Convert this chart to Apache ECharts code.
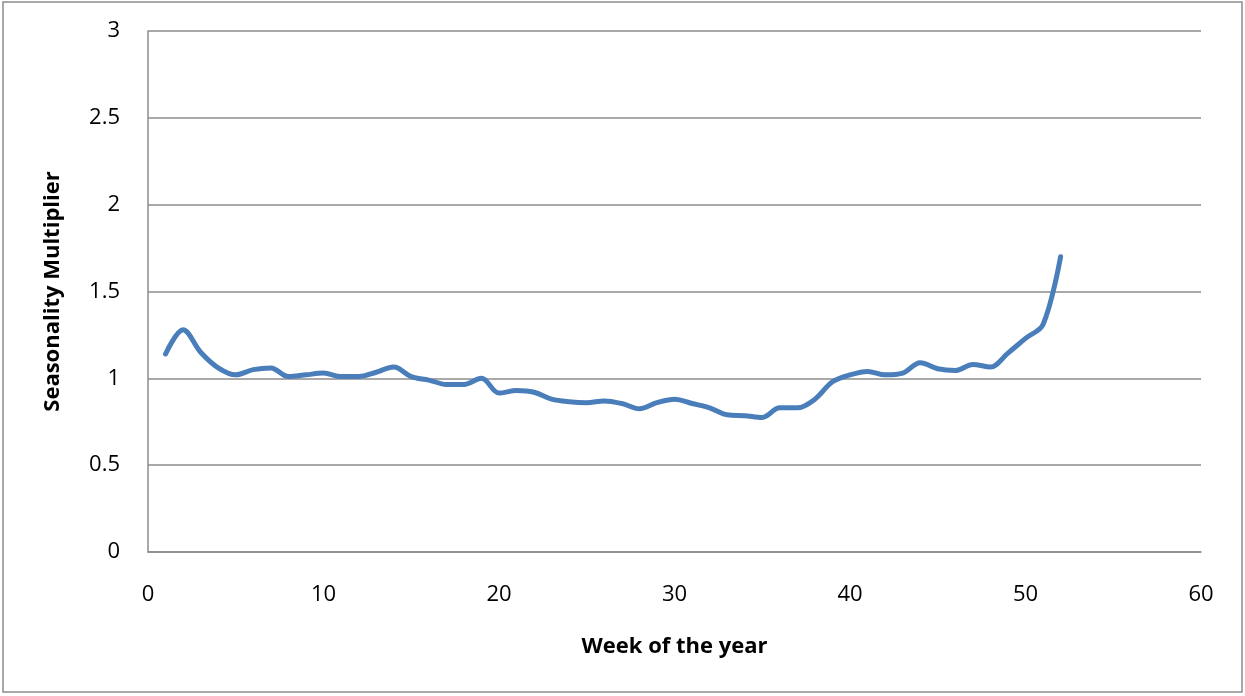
<!DOCTYPE html>
<html>
<head>
<meta charset="utf-8">
<script src="https://cdn.jsdelivr.net/npm/echarts@6/dist/echarts.min.js"></script>
<style>
  html, body { margin: 0; padding: 0; background: #fff; }
  #chart { width: 1245px; height: 696px; }
</style>
</head>
<body>
<div id="chart"></div>
<script>
// Week numbers 1..52 and the seasonality multiplier for each week
const weeks = [1,2,3,4,5,6,7,8,9,10,11,12,13,14,15,16,17,18,19,20,21,22,23,24,25,26,
               27,28,29,30,31,32,33,34,35,36,37,38,39,40,41,42,43,44,45,46,47,48,49,50,51,52];
const multiplier = [1.14,1.28,1.15,1.06,1.02,1.05,1.06,1.01,1.02,1.03,1.01,1.01,1.035,1.065,1.01,0.99,
                    0.965,0.965,1.0,0.915,0.93,0.92,0.88,0.865,0.86,0.87,0.855,0.825,0.86,0.88,
                    0.855,0.83,0.79,0.785,0.775,0.83,0.83,0.88,0.98,1.02,1.04,1.02,1.03,1.09,
                    1.055,1.045,1.08,1.065,1.145,1.23,1.31,1.70];
const xTicks = [0, 10, 20, 30, 40, 50, 60];
const yTicks = [0, 0.5, 1, 1.5, 2, 2.5, 3];

const seriesData = weeks.map((w, i) => [w, multiplier[i]]);
const font = "'Open Sans', 'Liberation Sans', sans-serif";

const chart = echarts.init(document.getElementById('chart'), null, { renderer: 'canvas' });
chart.setOption({
  animation: false,
  backgroundColor: '#ffffff',
  graphic: [{
    type: 'rect',
    shape: { x: 3, y: 2, width: 1239, height: 690 },
    style: { fill: 'none', stroke: '#8c8c8c', lineWidth: 1.5 },
    silent: true
  }],
  grid: { left: 148, right: 44, top: 31, bottom: 144 },
  xAxis: {
    type: 'value',
    min: xTicks[0],
    max: xTicks[xTicks.length - 1],
    interval: 10,
    name: 'Week of the year',
    nameLocation: 'middle',
    nameGap: 84,
    nameTextStyle: { fontFamily: font, fontSize: 22, fontWeight: 'bold', color: '#000' },
    axisLine: { show: true, lineStyle: { color: '#8c8c8c', width: 1.5 } },
    axisTick: { show: false },
    axisLabel: { fontFamily: font, fontSize: 22, color: '#000', margin: 32 },
    splitLine: { show: false }
  },
  yAxis: {
    type: 'value',
    min: yTicks[0],
    max: yTicks[yTicks.length - 1],
    interval: 0.5,
    name: 'Seasonality Multiplier',
    nameLocation: 'middle',
    nameGap: 84,
    nameRotate: 90,
    nameTextStyle: { fontFamily: font, fontSize: 22, fontWeight: 'bold', color: '#000' },
    axisLine: { show: true, lineStyle: { color: '#8c8c8c', width: 1.5 } },
    axisTick: { show: false },
    axisLabel: { fontFamily: font, fontSize: 22, color: '#000', margin: 28 },
    splitLine: { show: true, lineStyle: { color: '#8c8c8c', width: 1.5 } }
  },
  series: [{
    type: 'line',
    data: seriesData,
    smooth: 0.35,
    symbol: 'none',
    lineStyle: { color: '#4a7ebb', width: 5, cap: 'round', join: 'round' }
  }]
});
</script>
</body>
</html>
